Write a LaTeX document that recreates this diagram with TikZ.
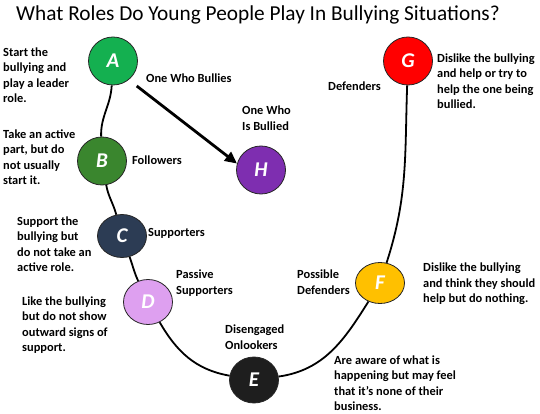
\documentclass[tikz,border=0pt]{standalone}
\usepackage{fontspec}
\setmainfont{Carlito}
\usetikzlibrary{positioning,arrows.meta,shapes.geometric}

\definecolor{roleA}{RGB}{20,176,80}
\definecolor{roleB}{RGB}{58,134,46}
\definecolor{roleC}{RGB}{44,60,84}
\definecolor{roleD}{RGB}{222,160,240}
\definecolor{roleE}{RGB}{30,30,30}
\definecolor{roleF}{RGB}{255,192,0}
\definecolor{roleG}{RGB}{255,0,0}
\definecolor{roleH}{RGB}{126,46,176}

\begin{document}
\begin{tikzpicture}[
    x=1pt, y=-1pt,
    txt/.style={anchor=west, align=left, inner sep=0pt,
                font=\bfseries\fontsize{12.4}{15.4}\selectfont},
    role/.style={ellipse, draw=black!85, line width=0.8pt, inner sep=0pt,
                 minimum width=49pt, minimum height=48pt, text=white,
                 font=\bfseries\itshape\fontsize{21}{21}\selectfont},
    curve/.style={draw=black, line width=1.8pt},
    bully/.style={-{Triangle[length=12pt,width=11pt]}, line width=2.8pt,
                  shorten <=10pt},
]
\useasboundingbox (0,0) rectangle (540,414);

\node (title) at (258,15) {\fontsize{21.3}{24}\selectfont What Roles Do Young People Play In Bullying Situations?};

% the eight roles
\node[role, fill=roleA] (A) at (113,61) {A};
\node[role, fill=roleB] (B) at (102,161) {B};
\node[role, fill=roleC, minimum height=43pt] (C) at (122,236) {C};
\node[role, fill=roleD, minimum height=45pt] (D) at (148,302) {D};
\node[role, fill=roleE, minimum height=46pt] (E) at (254,380) {E};
\node[role, fill=roleF, minimum height=41pt] (F) at (380,283) {F};
\node[role, fill=roleG] (G) at (408,61) {G};
\node[role, fill=roleH] (H) at (261,170) {H};

% the U running through the roles
\foreach \a/\b/\o/\i in {A/B/-93/92, B/C/-80/105, C/D/-70/115,
                         D/E/-60/170, E/F/8/-122, F/G/72/-92}
    \draw[curve] (\a) to[out=\o,in=\i] (\b);

\draw[bully] (A.-50) -- (H.165);

% names
\node[txt] (nA) at (146,78) {One Who Bullies};
\node[txt] (nH) at (242,118) {One Who\\Is Bullied};
\node[txt] (nB) at (132,160) {Followers};
\node[txt] (nC) at (148,233) {Supporters};
\node[txt] (nD) at (176,283) {Passive\\Supporters};
\node[txt] (nE) at (225,337) {Disengaged\\Onlookers};
\node[txt] (nF) at (297,282) {Possible\\Defenders};
\node[txt] (nG) at (328,86) {Defenders};

% descriptions
\node[txt] (dA) at (3,75) {Start the\\bullying and\\play a leader\\role.};
\node[txt] (dB) at (3,157) {Take an active\\part, but do\\not usually\\start it.};
\node[txt] (dC) at (17,244) {Support the\\bullying but\\do not take an\\active role.};
\node[txt] (dD) at (22,325) {Like the bullying\\but do not show\\outward signs of\\support.};
\node[txt] (dE) at (334,383) {Are aware of what is\\happening but may feel\\that it’s none of their\\business.};
\node[txt] (dF) at (423,284) {Dislike the bullying\\and think they should\\help but do nothing.};
\node[txt] (dG) at (437,81) {Dislike the bullying\\and help or try to\\help the one being\\bullied.};
\end{tikzpicture}
\end{document}
